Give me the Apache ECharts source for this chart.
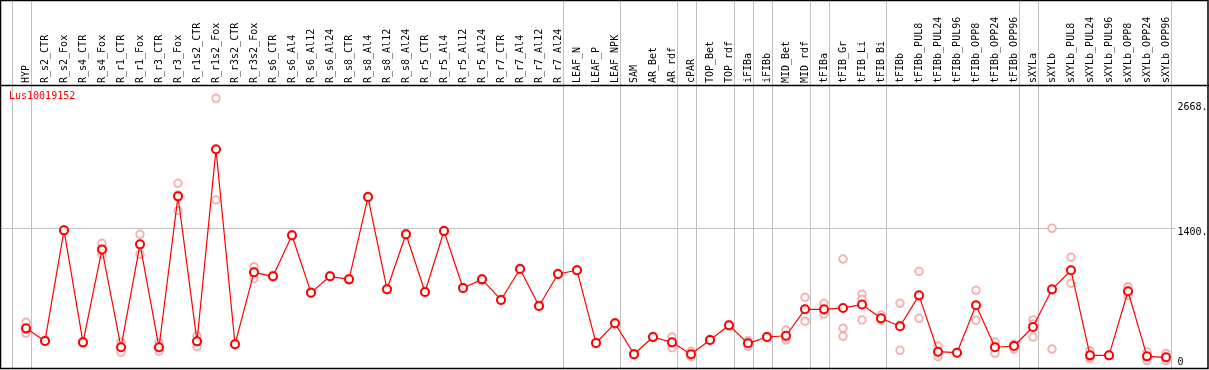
<!DOCTYPE html>
<html>
<head>
<meta charset="utf-8">
<script src="https://cdn.jsdelivr.net/npm/echarts@6/dist/echarts.min.js"></script>
<style>
  html, body { margin: 0; padding: 0; background: #fff; }
  #chart { width: 1209px; height: 370px; }
</style>
</head>
<body>
<div id="chart"></div>
<script>
var geneName = 'Lus10019152';

var categories = ['HYP', 'R_s2_CTR', 'R_s2_Fox', 'R_s4_CTR', 'R_s4_Fox', 'R_r1_CTR', 'R_r1_Fox',
  'R_r3_CTR', 'R_r3_Fox', 'R_r1s2_CTR', 'R_r1s2_Fox', 'R_r3s2_CTR', 'R_r3s2_Fox', 'R_s6_CTR',
  'R_s6_Al4', 'R_s6_Al12', 'R_s6_Al24', 'R_s8_CTR', 'R_s8_Al4', 'R_s8_Al12', 'R_s8_Al24',
  'R_r5_CTR', 'R_r5_Al4', 'R_r5_Al12', 'R_r5_Al24', 'R_r7_CTR', 'R_r7_Al4', 'R_r7_Al12', 'R_r7_Al24',
  'LEAF_N', 'LEAF_P', 'LEAF_NPK', 'SAM', 'AR_Bet', 'AR_rdf', 'cPAR', 'TOP_Bet', 'TOP_rdf',
  'iFIBa', 'iFIBb', 'MID_Bet', 'MID_rdf', 'tFIBa', 'tFIB_Gr', 'tFIB_Li', 'tFIB_Bi', 'tFIBb',
  'tFIBb_PUL8', 'tFIBb_PUL24', 'tFIBb_PUL96', 'tFIBb_OPP8', 'tFIBb_OPP24', 'tFIBb_OPP96',
  'sXYLa', 'sXYLb', 'sXYLb_PUL8', 'sXYLb_PUL24', 'sXYLb_PUL96', 'sXYLb_OPP8', 'sXYLb_OPP24', 'sXYLb_OPP96'];

// mean expression (red line)
var means = [382, 254, 1376, 240, 1183, 190, 1234, 190, 1721, 250, 2198, 220, 950, 910,
  1326, 744, 910, 879, 1714, 778, 1336, 751, 1369, 791, 879, 670, 984, 609, 933,
  971, 233, 433, 119, 294, 240, 119, 264, 413, 230, 294, 307, 575, 575, 589, 623, 484, 403,
  717, 145, 135, 616, 190, 203, 396, 778, 971, 108, 108, 758, 98, 88];

// replicates (pale circles)
var rep1 = [443, 262, 1380, 250, 1245, 240, 1336, 235, 1853, 307, 2716, 228, 1007, 918,
  1334, 752, 918, 887, 1722, 786, 1344, 759, 1377, 799, 887, 678, 992, 617, 941,
  979, 241, 441, 127, 302, 294, 149, 272, 421, 257, 302, 365, 697, 636, 1085, 727, 517, 636,
  961, 203, 140, 768, 243, 220, 467, 1397, 1103, 155, 112, 805, 142, 128];
var rep2 = [332, 248, 1370, 232, 1133, 139, 1133, 152, 1575, 196, 1684, 214, 886, 902,
  1318, 736, 902, 871, 1706, 770, 1328, 743, 1361, 783, 871, 662, 976, 601, 925,
  963, 225, 425, 111, 286, 186, 95, 256, 405, 200, 286, 264, 453, 527, 382, 676, 470, 159,
  484, 94, 130, 463, 129, 170, 294, 172, 839, 74, 104, 713, 55, 55];
var rep3 = [371, 252, 1378, 238, 1171, 191, 1233, 183, 1735, 247, 2194, 218, 957, 910,
  1326, 744, 910, 879, 1714, 778, 1336, 751, 1369, 791, 879, 670, 984, 609, 933,
  971, 233, 433, 119, 294, 240, 113, 264, 413, 233, 294, 292, 575, 562, 301, 467, 465, 414,
  706, 138, 135, 617, 198, 219, 427, 765, 971, 95, 108, 756, 97, 81];

// group separators are drawn just after these category indexes
var separators = [-1, 0, 28, 31, 34, 35, 37, 38, 39, 41, 42, 45, 52, 53, 60];

var yTicks = { max: 2668, step: 1400 };

var monoFont = 'DejaVu Sans Mono';
var gridColor = '#c0c0c0';

function repPoints() {
  var pts = [];
  [rep1, rep2, rep3].forEach(function (rep) {
    rep.forEach(function (v, i) { pts.push([i, v]); });
  });
  return pts;
}

var myChart = echarts.init(document.getElementById('chart'), null, { renderer: 'canvas' });

var option = {
  animation: false,
  backgroundColor: '#fff',
  title: {
    text: geneName,
    left: 9,
    top: 91,
    padding: 0,
    textStyle: { color: '#ff0000', fontSize: 10, fontWeight: 'normal', fontFamily: monoFont }
  },
  grid: { left: 16.5, right: 33.5, top: 103, bottom: 4, outerBoundsMode: 'none' },
  xAxis: {
    type: 'category',
    position: 'top',
    data: categories,
    axisLine: { show: false },
    axisTick: { show: false },
    splitLine: { show: false },
    axisLabel: {
      interval: 0,
      rotate: 90,
      margin: 20,
      color: '#000',
      fontSize: 10,
      fontFamily: monoFont
    }
  },
  yAxis: {
    type: 'value',
    position: 'right',
    min: 0,
    max: yTicks.max,
    interval: yTicks.step,
    axisLine: { show: false },
    axisTick: { show: false },
    splitLine: {
      show: true,
      showMinLine: false,
      showMaxLine: false,
      lineStyle: { color: gridColor, width: 1 }
    },
    axisLabel: {
      margin: 2,
      color: '#000',
      fontSize: 10,
      fontFamily: monoFont,
      formatter: function (v) {
        return v === 0 ? '{z|0}' : '{a|' + v + '.}';
      },
      rich: {
        a: { padding: [9, 0, 0, 0], fontSize: 10, fontFamily: monoFont, color: '#000' },
        z: { padding: [0, 0, 8, 0], fontSize: 10, fontFamily: monoFont, color: '#000' }
      }
    }
  },
  graphic: [
    {
      type: 'rect', silent: true, z: 100,
      shape: { x: 0.5, y: 0.5, width: 1207.5, height: 368 },
      style: { fill: 'none', stroke: '#000', lineWidth: 1.5 }
    },
    {
      type: 'line', silent: true, z: 100,
      shape: { x1: 0, y1: 85.5, x2: 1209, y2: 85.5 },
      style: { stroke: '#000', lineWidth: 1.5 }
    }
  ],
  series: [
    {
      name: 'groups',
      type: 'custom',
      clip: false,
      silent: true,
      z: 1,
      data: separators.map(function (s) { return [0, s]; }),
      renderItem: function (params, api) {
        var band = api.size([1, 0])[0];
        var x0 = api.coord([0, 0])[0];
        var x = Math.round(x0 + (api.value(1) + 0.24) * band) + 0.5;
        var children = [{
          type: 'line',
          shape: { x1: x, y1: 0, x2: x, y2: api.getHeight() },
          style: { stroke: gridColor, lineWidth: 1 }
        }];
        if (params.dataIndex === 0) {
          // the horizontal grid rule also runs into the left margin
          var y = Math.round(api.coord([0, yTicks.step])[1]) + 0.5;
          children.push({
            type: 'line',
            shape: { x1: 1, y1: y, x2: x0 - band / 2, y2: y },
            style: { stroke: gridColor, lineWidth: 1 }
          });
        }
        return { type: 'group', children: children };
      }
    },
    {
      name: 'replicates',
      type: 'scatter',
      clip: false,
      z: 2,
      symbol: 'emptyCircle',
      symbolSize: 7.5,
      itemStyle: { color: '#f0a0a0', borderWidth: 1.4 },
      data: repPoints()
    },
    {
      name: 'mean',
      type: 'line',
      z: 3,
      clip: false,
      data: means,
      symbol: 'emptyCircle',
      symbolSize: 8,
      showAllSymbol: true,
      lineStyle: { color: '#ff0000', width: 1.2 },
      itemStyle: { color: '#ff0000', borderWidth: 1.5 }
    }
  ]
};

myChart.setOption(option);
</script>
</body>
</html>
